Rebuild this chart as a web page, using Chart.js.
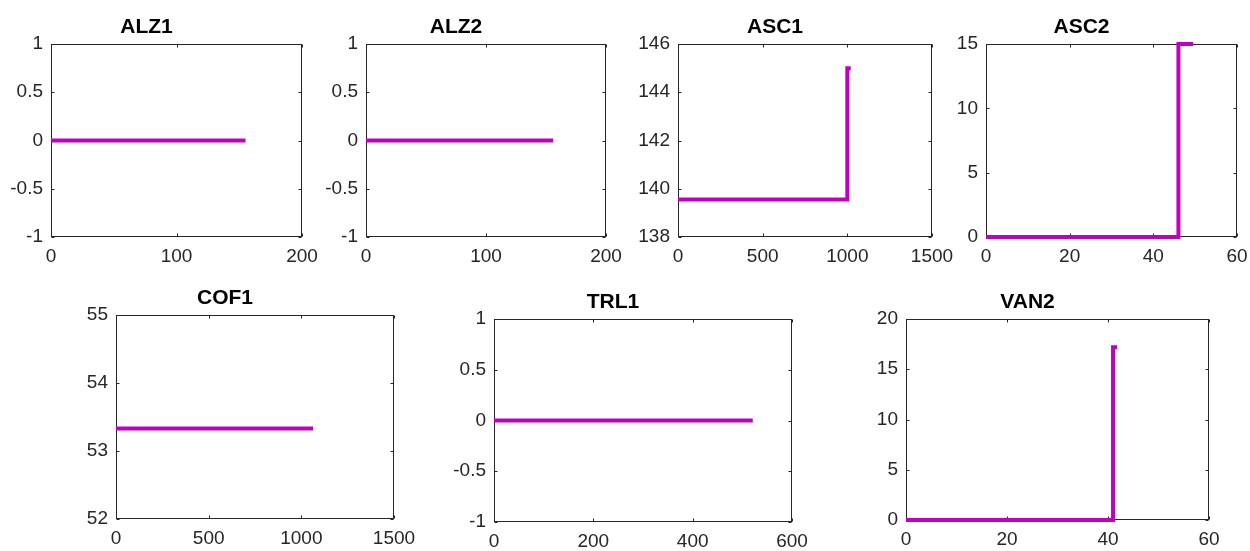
<!DOCTYPE html>
<html>
<head>
<meta charset="utf-8">
<script src="https://cdn.jsdelivr.net/npm/chart.js@4.4.0/dist/chart.umd.min.js"></script>
<style>
    html, body { margin: 0; padding: 0; background: #fff; overflow: hidden; width: 1250px; height: 551px; }
    canvas { position: absolute; }
</style>
</head>
<body>
<script>
// Panel titles
const panelNames = ['ALZ1', 'ALZ2', 'ASC1', 'ASC2', 'COF1', 'TRL1', 'VAN2'];

// Series values (x, y)
const alz1X = [0, 155];
const alz1Y = [0, 0];
const alz2X = [0, 156];
const alz2Y = [0, 0];
const asc1X = [0, 1000, 1000, 1020];
const asc1Y = [139.55, 139.55, 145, 145];
const asc2X = [0, 46, 46, 49.5];
const asc2Y = [0, 0, 15, 15];
const cof1X = [0, 1063];
const cof1Y = [53.33, 53.33];
const trl1X = [0, 521];
const trl1Y = [0, 0];
const van2X = [0, 41, 41, 41.8];
const van2Y = [0, 0, 17.2, 17.2];

// Tick labels
const alzXTicks = [0, 100, 200];
const unitYTicks = [-1, -0.5, 0, 0.5, 1];
const asc1XTicks = [0, 500, 1000, 1500];
const asc1YTicks = [138, 140, 142, 144, 146];
const asc2XTicks = [0, 20, 40, 60];
const asc2YTicks = [0, 5, 10, 15];
const cof1XTicks = [0, 500, 1000, 1500];
const cof1YTicks = [52, 53, 54, 55];
const trl1XTicks = [0, 200, 400, 600];
const van2XTicks = [0, 20, 40, 60];
const van2YTicks = [0, 5, 10, 15, 20];

const seriesX = [alz1X, alz2X, asc1X, asc2X, cof1X, trl1X, van2X];
const seriesY = [alz1Y, alz2Y, asc1Y, asc2Y, cof1Y, trl1Y, van2Y];
const xTicks = [alzXTicks, alzXTicks, asc1XTicks, asc2XTicks, cof1XTicks, trl1XTicks, van2XTicks];
const yTicks = [unitYTicks, unitYTicks, asc1YTicks, asc2YTicks, cof1YTicks, unitYTicks, van2YTicks];

// Plot-area boxes on the page: left, top, right, bottom
const plotBoxes = [
    [51, 44, 302, 237],
    [366, 44, 606, 237],
    [678, 44, 932, 237],
    [986, 44, 1237, 237],
    [116, 315, 394, 519],
    [494, 319, 792, 522],
    [906, 319, 1209, 520]
];

const lineColor = '#BF00BF';
const axisColor = '#262626';
const fontFamily = "'Liberation Sans', Arial, Helvetica, sans-serif";
const Y_AXIS_W = 60;
const X_AXIS_H = 28;
const TITLE_H = 28;

// MATLAB-like box with inward ticks on all four sides
const boxTicks = {
    id: 'boxTicks',
    beforeDatasetsDraw(chart) {
        const { ctx, chartArea: a, scales } = chart;
        const l = Math.round(a.left) + 0.5, r = Math.round(a.right) - 0.5;
        const t = Math.round(a.top) + 0.5, b = Math.round(a.bottom) - 0.5;
        ctx.save();
        ctx.strokeStyle = axisColor;
        ctx.lineWidth = 1;
        ctx.strokeRect(l, t, r - l, b - t);
        ctx.beginPath();
        scales.x.ticks.forEach(tk => {
            const px = Math.round(scales.x.getPixelForValue(tk.value)) + 0.5;
            ctx.moveTo(px, b); ctx.lineTo(px, b - 3);
            ctx.moveTo(px, t); ctx.lineTo(px, t + 3);
        });
        scales.y.ticks.forEach(tk => {
            const py = Math.round(scales.y.getPixelForValue(tk.value)) + 0.5;
            ctx.moveTo(l, py); ctx.lineTo(l + 3, py);
            ctx.moveTo(r, py); ctx.lineTo(r - 3, py);
        });
        ctx.stroke();
        ctx.restore();
    }
};

function makePanel(i) {
    const [left, top, right, bottom] = plotBoxes[i];
    const canvas = document.createElement('canvas');
    const w = (right - left) + Y_AXIS_W * 2;
    const h = (bottom - top) + TITLE_H + X_AXIS_H;
    canvas.width = w;
    canvas.height = h;
    canvas.style.left = (left - Y_AXIS_W) + 'px';
    canvas.style.top = (top - TITLE_H) + 'px';
    canvas.style.width = w + 'px';
    canvas.style.height = h + 'px';
    document.body.appendChild(canvas);

    const xt = xTicks[i], yt = yTicks[i];
    const points = seriesX[i].map((x, k) => ({ x: x, y: seriesY[i][k] }));

    new Chart(canvas, {
        type: 'scatter',
        data: {
            datasets: [{
                data: points,
                showLine: true,
                borderColor: lineColor,
                backgroundColor: lineColor,
                borderWidth: 4,
                pointRadius: 0,
                tension: 0,
                clip: false
            }]
        },
        options: {
            responsive: false,
            animation: false,
            events: [],
            layout: { padding: { left: 0, right: Y_AXIS_W, top: 0, bottom: 0 } },
            plugins: {
                legend: { display: false },
                tooltip: { enabled: false },
                title: {
                    display: true,
                    text: panelNames[i],
                    color: '#000',
                    font: { family: fontFamily, size: 21, weight: 'bold', lineHeight: '22px' },
                    padding: { top: 0, bottom: 6 }
                }
            },
            scales: {
                x: {
                    type: 'linear',
                    min: xt[0],
                    max: xt[xt.length - 1],
                    afterBuildTicks: s => { s.ticks = xt.map(v => ({ value: v })); },
                    afterFit: s => { s.height = X_AXIS_H; },
                    grid: { display: false, drawTicks: false },
                    border: { display: false },
                    ticks: {
                        autoSkip: false,
                        maxRotation: 0,
                        padding: 8,
                        color: axisColor,
                        font: { family: fontFamily, size: 19 },
                        callback: v => String(v)
                    }
                },
                y: {
                    type: 'linear',
                    min: yt[0],
                    max: yt[yt.length - 1],
                    afterBuildTicks: s => { s.ticks = yt.map(v => ({ value: v })); },
                    afterFit: s => { s.width = Y_AXIS_W; },
                    grid: { display: false, drawTicks: false },
                    border: { display: false },
                    ticks: {
                        autoSkip: false,
                        padding: 8,
                        color: axisColor,
                        font: { family: fontFamily, size: 19 },
                        callback: v => String(v)
                    }
                }
            }
        },
        plugins: [boxTicks]
    });
}

for (let i = 0; i < panelNames.length; i++) makePanel(i);
</script>
</body>
</html>
